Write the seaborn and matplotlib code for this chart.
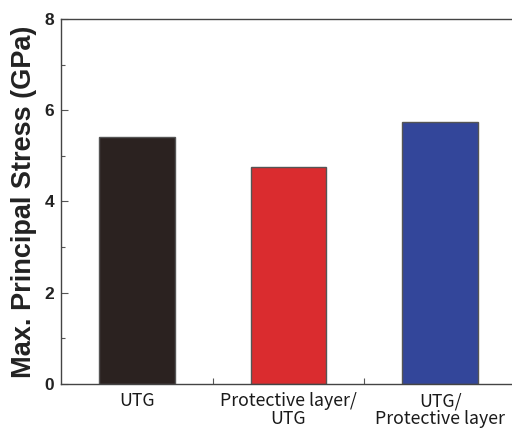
import matplotlib
matplotlib.use('Agg')
import matplotlib.pyplot as plt
from matplotlib.ticker import MultipleLocator
import seaborn as sns
import pandas as pd

categories = ["UTG", "Protective layer/\nUTG", "UTG/\nProtective layer"]
stress = [5.41, 4.75, 5.74]
colors = ["#2b2220", "#da2c2f", "#33469a"]

sns.set_style("ticks")
plt.rcParams['font.family'] = ['Liberation Sans', 'DejaVu Sans']

df = pd.DataFrame({"case": categories, "stress": stress})

fig = plt.figure(figsize=(5.12, 4.32), dpi=100)
ax = fig.add_axes([61 / 512, 48 / 432, 455 / 512, 365 / 432])
sns.barplot(data=df, x="case", y="stress", hue="case", palette=colors,
            width=0.5, edgecolor="#555555", linewidth=1.0, saturation=1,
            legend=False, ax=ax)

ax.set_xlim(-0.5, 2.5)
ax.set_ylim(0, 8)
ax.yaxis.set_major_locator(MultipleLocator(2))
ax.yaxis.set_minor_locator(MultipleLocator(1))
ax.set_xticks([0, 1, 2])
ax.set_xticks([0.5, 1.5], minor=True)
ax.tick_params(axis='both', which='both', direction='in', top=False, right=False)
ax.tick_params(axis='x', which='major', length=0, pad=6)
ax.tick_params(axis='x', which='minor', length=4, width=0.8, color='#555555')
ax.tick_params(axis='y', which='major', length=5, width=0.8, color='#555555', pad=5)
ax.tick_params(axis='y', which='minor', length=3, width=0.8, color='#555555')

for lbl in ax.get_yticklabels():
    lbl.set_fontweight('bold')
    lbl.set_fontsize(12.5)
    lbl.set_color('#222222')
ax.set_xticks([0, 1, 2], categories, fontsize=12.8, linespacing=0.95,
              family=['Noto Sans CJK KR', 'DejaVu Sans'], fontweight='medium',
              color='#1a1a1a')

ax.set_xlabel("")
ax.set_ylabel("Max. Principal Stress (GPa)", fontsize=19.5, fontweight='bold',
              color='#222222', labelpad=5)

ax.spines['right'].set_visible(False)
for s in ax.spines.values():
    s.set_color('#444444')
    s.set_linewidth(1.0)

fig.savefig("out.png", dpi=100)
